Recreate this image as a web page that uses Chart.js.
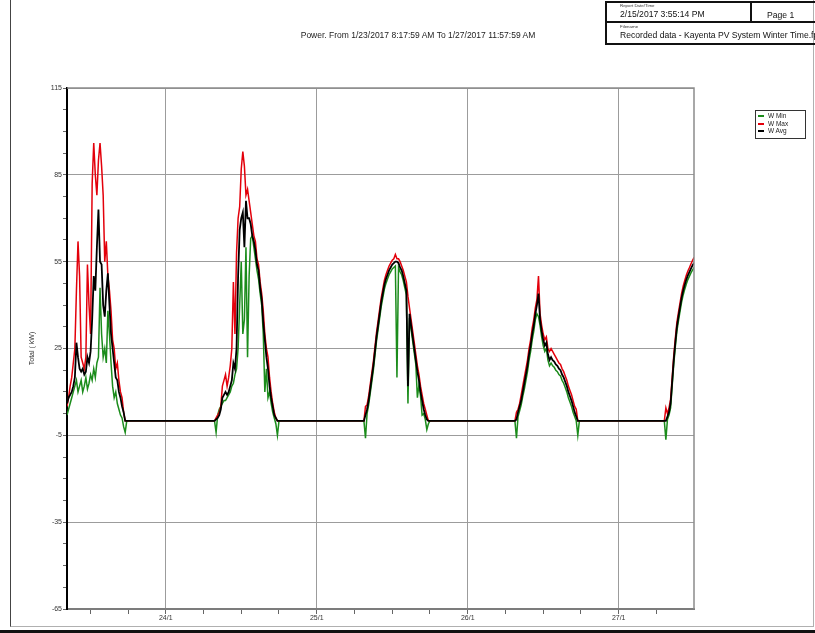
<!DOCTYPE html>
<html>
<head>
<meta charset="utf-8">
<title>Power - Kayenta PV System</title>
<script src="https://cdn.jsdelivr.net/npm/chart.js@4.4.0/dist/chart.umd.min.js"></script>
<style>
    body { margin: 0; background: #fff; font-family: 'Liberation Sans', Arial, sans-serif; color: #222; }
    #page { position: relative; width: 815px; height: 633px; overflow: hidden; background: #fff; }
    #chart { position: absolute; left: 0; top: 0; }
    .frame { position: absolute; left: 10px; top: -2px; width: 802px; height: 628px;
             border-left: 1px solid #444; border-right: 1px solid #b0b0b0; border-bottom: 1px solid #b0b0b0; }
    .bottom-bar { position: absolute; left: 0; top: 630px; width: 815px; height: 3px; background: #111; }
    .hdr { position: absolute; left: 605px; top: 1px; width: 230px; height: 40px; border: 2px solid #111; }
    .hdr-row { position: absolute; left: 605px; top: 21px; width: 230px; height: 0; border-top: 2px solid #111; }
    .hdr-col { position: absolute; left: 750px; top: 1px; width: 0; height: 21px; border-left: 2px solid #111; }
    .tiny { position: absolute; font-size: 8px; transform: scale(0.55); transform-origin: left top; white-space: nowrap; color: #333; }
    .htxt { position: absolute; font-size: 8.6px; white-space: nowrap; color: #111; }
    .title { position: absolute; left: 0; top: 30px; width: 836px; text-align: center; font-size: 8.5px; color: #222; white-space: nowrap; }
    #legend { position: absolute; left: 755px; top: 110px; width: 49px; height: 27px; border: 1px solid #333; }
    .leg-item { position: absolute; left: 2px; height: 8px; font-size: 6.5px; line-height: 8px; white-space: nowrap; color: #222; }
    .leg-item span.sw { position: absolute; left: 0; top: 3px; width: 6px; height: 2px; }
    .leg-item span.tx { position: absolute; left: 10px; top: 0; }
</style>
</head>
<body>
<div id="page">
    <canvas id="chart" width="815" height="633"></canvas>
    <div class="frame"></div>
    <div class="bottom-bar"></div>

    <div class="hdr"></div>
    <div class="hdr-row"></div>
    <div class="hdr-col"></div>
    <div class="tiny" style="left:620px; top:3px;">Report Date/Time</div>
    <div class="htxt" style="left:620px; top:9px;">2/15/2017 3:55:14 PM</div>
    <div class="htxt" style="left:767px; top:10px;">Page 1</div>
    <div class="tiny" style="left:620px; top:24px;">Filename</div>
    <div class="htxt" style="left:620px; top:30px;">Recorded data - Kayenta PV System Winter Time.fpr</div>

    <div class="title">Power. From 1/23/2017 8:17:59 AM To 1/27/2017 11:57:59 AM</div>
    <div id="legend"></div>
</div>

<script>
/* ─── Series info ────────────────────────────── */
const seriesLabels = ['W Min', 'W Max', 'W Avg'];
const seriesColors = ['#1b8c1b', '#e3000b', '#000000'];
const seriesWidths = [1.5, 1.5, 1.8];

/* ─── Time axis (hours since 23/1 00:00) ─────── */
const startHour = 8.3;     // 1/23 8:17:59 AM
const endHour = 107.97;    // 1/27 11:57:59 AM
const stepHours = 0.25;
const nightLevel = 0;
const dayStarts = [8.3, 32.0, 55.75, 79.75, 103.5];
const xTickHours = [12, 18, 24, 30, 36, 42, 48, 54, 60, 66, 72, 78, 84, 90, 96, 102];
const dayTicks = [24, 48, 72, 96];
const dayLabels = ['24/1', '25/1', '26/1', '27/1'];

/* ─── Value axis ─────────────────────────────── */
const yMin = -65;
const yMax = 115;
const yMajorTicks = [-65, -35, -5, 25, 55, 85, 115];
const yMinorStep = 7.5;

/* ─── Day 1 (23/1) ───────────────────────────── */
const day1Min = [2, 4, 6, 8, 10, 12, 14, 10, 12, 14, 10, 12, 15, 11, 13, 16, 14, 18, 15, 20, 22, 46, 30, 22, 25, 20, 38, 30, 20, 12, 8, 10, 6, 4, 2, 1, -2, -4];
const day1Max = [5, 8, 12, 15, 20, 25, 45, 62, 50, 22, 20, 18, 22, 54, 40, 30, 82, 96, 85, 78, 90, 96, 88, 78, 55, 62, 50, 45, 38, 28, 25, 18, 20, 14, 10, 8, 3, 0];
const day1Avg = [6, 8, 9, 10, 12, 15, 27, 22, 18, 17, 18, 16, 17, 22, 20, 24, 35, 50, 45, 60, 73, 55, 54, 40, 36, 45, 51, 40, 30, 25, 20, 15, 14, 10, 8, 5, 3, 0];

/* ─── Day 2 (24/1) ───────────────────────────── */
const day2Min = [-4, 2, 4, 5, 6, 7, 7, 8, 9, 10, 12, 13, 16, 18, 25, 40, 55, 30, 35, 60, 22, 50, 63, 64, 60, 56, 52, 49, 44, 40, 30, 10, 18, 8, 10, 6, 3, 1, -1, -5];
const day2Max = [1, 2, 3, 5, 12, 14, 16, 12, 15, 19, 25, 48, 30, 58, 70, 74, 87, 93, 88, 78, 80, 76, 72, 68, 64, 62, 56, 54, 48, 44, 38, 30, 25, 22, 15, 10, 6, 3, 1, 0];
const day2Avg = [0.5, 1, 2, 4, 8, 9, 10, 9, 10, 12, 14, 20, 18, 25, 50, 66, 70, 72, 60, 76, 70, 70, 68, 64, 62, 59, 54, 52, 46, 42, 34, 28, 22, 18, 12, 8, 5, 2, 1, 0];

/* ─── Day 3 (25/1) ───────────────────────────── */
const day3Min = [-6, 2.5, 5.5, 9.5, 13.5, 17.5, 22.5, 27.5, 31.5, 35.5, 39.5, 42.5, 45.5, 47.5, 49, 50.5, 51.5, 52.5, 53, 53.5, 15, 53, 51.5, 50.5, 48.5, 46, 43.5, 6, 35.5, 31.5, 27.5, 23.5, 19.5, 8, 12.5, 8.5, 2, 2.5, 0.5, -3, -1];
const day3Max = [5, 5.5, 8.5, 12.5, 16.5, 20.5, 25.5, 30.5, 34.5, 38.5, 42.5, 45.5, 48.5, 50.5, 52, 53.5, 54.5, 55.5, 56, 57.5, 56, 56, 55, 53.5, 52, 50, 48, 43, 39, 35, 31, 27, 23, 19, 16, 12, 9, 6, 4, 2, 0];
const day3Avg = [2, 4, 7, 11, 15, 19, 24, 29, 33, 37, 41, 44, 47, 49, 50.5, 52, 53, 54, 54.5, 55, 55, 54.5, 53, 52, 50, 47.5, 45, 12, 37, 33, 29, 25, 21, 17, 14, 10, 7, 4, 2, 0.5, 0];

/* ─── Day 4 (26/1) ───────────────────────────── */
const day4Min = [-6, 1.5, 3.5, 5.5, 8.5, 11, 14, 17, 21, 24, 28, 31, 35, 37, 36, 33, 29, 26, 24, 25, 21, 19, 20, 19, 18.5, 17.5, 17, 16, 15.5, 14, 13, 11.5, 10, 8, 6.5, 5, 3, 1.5, 0, -5];
const day4Max = [3, 4, 6, 9, 12, 15, 18, 21, 25, 28, 32, 35, 39, 42, 50, 37, 33, 30, 28, 29, 25, 24, 25, 24, 23, 22, 21, 20, 19.5, 18, 17, 15.5, 14, 12, 10.5, 9, 7, 5, 4, 0];
const day4Avg = [0.5, 3, 5, 7, 10, 13, 16, 19, 23, 26, 30, 33, 37, 40, 44, 35, 31, 28, 26, 27, 23, 21, 22, 21, 20.5, 19.5, 19, 18, 17.5, 16, 15, 13.5, 12, 10, 8.5, 7, 5, 3, 1.5, 0];

/* ─── Day 5 (27/1, morning) ──────────────────── */
const day5Min = [-6.5, 0.5, 2, 4.5, 12, 19.5, 25.5, 31, 34.5, 37.8, 41, 43.5, 45.5, 47.3, 48.8, 50, 51.2, 52.2, 53];
const day5Max = [4.5, 2.5, 4.5, 7.5, 15, 22.5, 28.5, 34, 37.5, 40.8, 44, 46.5, 48.5, 50.3, 51.8, 53, 54.3, 55.5, 56.5];
const day5Avg = [0, 1.5, 3, 6, 13.5, 21, 27, 32.5, 36, 39.3, 42.5, 45, 47, 48.8, 50.3, 51.5, 52.7, 53.8, 54.6];

/* ─── Build {x,y} points, night at zero ──────── */
function buildSeries(days) {
    const pts = [];
    days.forEach((vals, d) => {
        const t0 = dayStarts[d];
        if (d > 0) pts.push({ x: t0 - stepHours, y: nightLevel });
        vals.forEach((v, i) => pts.push({ x: t0 + i * stepHours, y: v }));
        if (d < days.length - 1) pts.push({ x: t0 + vals.length * stepHours, y: nightLevel });
    });
    return pts;
}

const minData = buildSeries([day1Min, day2Min, day3Min, day4Min, day5Min]);
const maxData = buildSeries([day1Max, day2Max, day3Max, day4Max, day5Max]);
const avgData = buildSeries([day1Avg, day2Avg, day3Avg, day4Avg, day5Avg]);

/* ─── Legend (html) ──────────────────────────── */
const legendEl = document.getElementById('legend');
seriesLabels.forEach((lbl, i) => {
    const item = document.createElement('div');
    item.className = 'leg-item';
    item.style.top = (1 + i * 7.7) + 'px';
    item.innerHTML = '<span class="sw" style="background:' + seriesColors[i] + '"></span><span class="tx">' + lbl + '</span>';
    legendEl.appendChild(item);
});

/* ─── Plot frame (top / right edges) ─────────── */
const framePlugin = {
    id: 'plotFrame',
    afterDraw(chart) {
        const { ctx, chartArea: a } = chart;
        ctx.save();
        ctx.strokeStyle = '#8c8c8c';
        ctx.lineWidth = 1.5;
        ctx.beginPath();
        ctx.moveTo(a.left, a.top);
        ctx.lineTo(a.right, a.top);
        ctx.lineTo(a.right, a.bottom);
        ctx.stroke();
        ctx.restore();
    }
};

const axisFont = { family: "'Liberation Sans', Arial, sans-serif", size: 7 };

new Chart(document.getElementById('chart').getContext('2d'), {
    type: 'line',
    data: {
        datasets: [
            { label: seriesLabels[0], data: minData, borderColor: seriesColors[0], borderWidth: seriesWidths[0], order: 2 },
            { label: seriesLabels[1], data: maxData, borderColor: seriesColors[1], borderWidth: seriesWidths[1], order: 1 },
            { label: seriesLabels[2], data: avgData, borderColor: seriesColors[2], borderWidth: seriesWidths[2], order: 0 }
        ]
    },
    options: {
        responsive: false,
        animation: false,
        layout: { padding: { left: 0, right: 121, top: 88, bottom: 0 } },
        elements: {
            point: { radius: 0 },
            line: { tension: 0 }
        },
        plugins: {
            legend: { display: false },
            tooltip: { enabled: false },
            title: { display: false }
        },
        scales: {
            x: {
                type: 'linear',
                min: startHour,
                max: endHour,
                afterBuildTicks: (scale) => { scale.ticks = xTickHours.map(v => ({ value: v })); },
                afterFit: (scale) => { scale.height = 24; },
                border: { color: '#7c7c7c', width: 2 },
                grid: {
                    color: (c) => (c.tick && dayTicks.includes(c.tick.value)) ? '#9c9c9c' : 'rgba(0,0,0,0)',
                    tickColor: '#666',
                    tickLength: 5,
                    lineWidth: 1
                },
                ticks: {
                    autoSkip: false,
                    maxRotation: 0,
                    padding: 0,
                    font: axisFont,
                    color: '#333',
                    callback: (v) => {
                        const k = dayTicks.indexOf(v);
                        return k >= 0 ? dayLabels[k] : '';
                    }
                }
            },
            y: {
                min: yMin,
                max: yMax,
                afterBuildTicks: (scale) => {
                    const t = [];
                    for (let v = yMin; v <= yMax + 0.001; v += yMinorStep) t.push({ value: v });
                    scale.ticks = t;
                },
                afterFit: (scale) => { scale.width = 67; },
                border: { color: '#000', width: 2 },
                grid: {
                    color: (c) => (c.tick && yMajorTicks.includes(c.tick.value)) ? '#9c9c9c' : 'rgba(0,0,0,0)',
                    tickColor: '#666',
                    tickLength: 4,
                    lineWidth: 1
                },
                ticks: {
                    autoSkip: false,
                    padding: 1,
                    font: axisFont,
                    color: '#333',
                    callback: (v) => yMajorTicks.includes(v) ? String(v) : ''
                },
                title: {
                    display: true,
                    text: 'Total ( kW)',
                    font: axisFont,
                    color: '#333',
                    padding: { top: 28, bottom: 0 }
                }
            }
        }
    },
    plugins: [framePlugin]
});
</script>
</body>
</html>
